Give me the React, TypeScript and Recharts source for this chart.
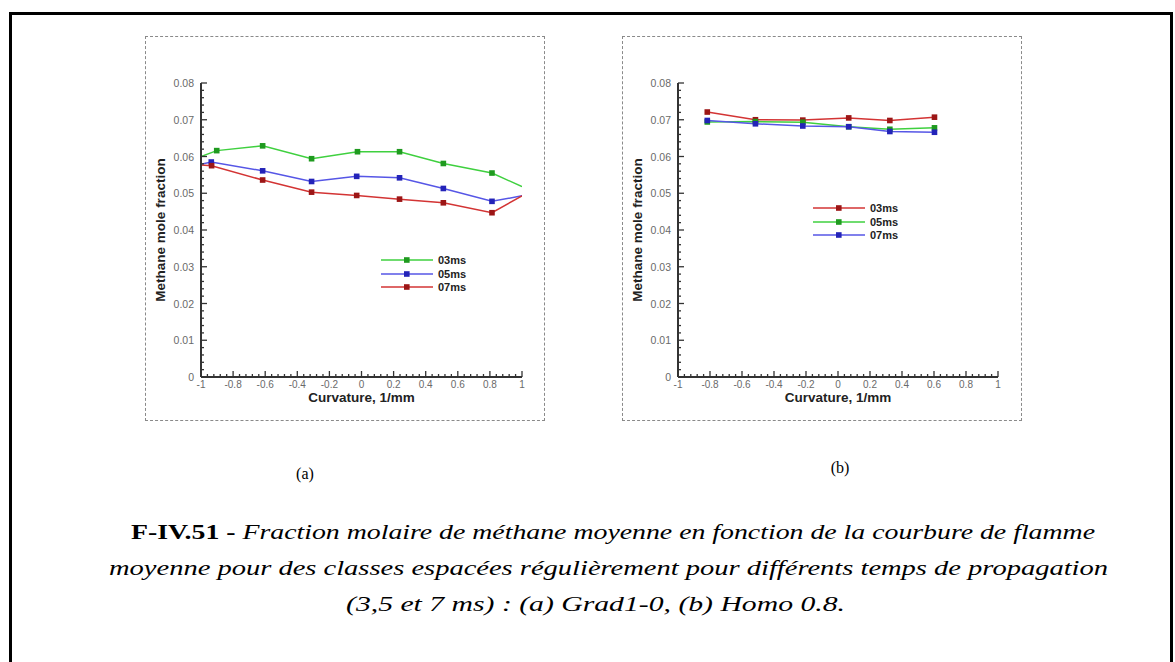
import { LineChart, Line, XAxis, YAxis, Legend } from 'recharts';

// (a) Grad1-0 : curvature classes and mean methane mole fraction
const curvA03 = [-1, -0.902, -0.616, -0.311, -0.025, 0.237, 0.51, 0.813, 1];
const molA03 = [0.06, 0.0616, 0.0629, 0.0594, 0.0613, 0.0613, 0.0581, 0.0555, 0.0518];
const curvA05 = [-1, -0.936, -0.616, -0.311, -0.03, 0.237, 0.51, 0.813, 1];
const molA05 = [0.0579, 0.0585, 0.0561, 0.0532, 0.0546, 0.0542, 0.0513, 0.0478, 0.0493];
const curvA07 = [-1, -0.934, -0.616, -0.311, -0.03, 0.237, 0.51, 0.813, 1];
const molA07 = [0.0577, 0.0575, 0.0536, 0.0503, 0.0494, 0.0484, 0.0474, 0.0447, 0.0493];

// (b) Homo 0.8
const curvB = [-0.817, -0.516, -0.22, 0.067, 0.324, 0.603];
const molB03 = [0.0721, 0.07, 0.0699, 0.0705, 0.0698, 0.0707];
const molB05 = [0.0694, 0.0695, 0.0693, 0.0681, 0.0674, 0.0678];
const molB07 = [0.0698, 0.0689, 0.0683, 0.0681, 0.0668, 0.0666];

const seriesNames = ['03ms', '05ms', '07ms'];

const xMajor = [-1, -0.8, -0.6, -0.4, -0.2, 0, 0.2, 0.4, 0.6, 0.8, 1];
const xLabels = ['-1', '-0.8', '-0.6', '-0.4', '-0.2', '0', '0.2', '0.4', '0.6', '0.8', '1'];
const yMajor = [0, 0.01, 0.02, 0.03, 0.04, 0.05, 0.06, 0.07, 0.08];
const yLabels = ['0', '0.01', '0.02', '0.03', '0.04', '0.05', '0.06', '0.07', '0.08'];

const GREEN = { line: '#3fd03f', mark: '#1f9a1f' };
const BLUE = { line: '#5656e6', mark: '#2323b8' };
const RED = { line: '#d33434', mark: '#9c1616' };

const rows = (xs: number[], ys: number[]) => xs.map((x, i) => ({ x, y: ys[i] }));

// split every major interval into n parts for the minor tick marks
const subdivide = (major: number[], n: number) => {
    const out: number[] = [];
    for (let i = 0; i < major.length - 1; i++) {
        const step = (major[i + 1] - major[i]) / n;
        for (let k = 0; k < n; k++) out.push(+(major[i] + k * step).toFixed(6));
    }
    out.push(major[major.length - 1]);
    return out;
};
const xTicks = subdivide(xMajor, 5);
const yTicks = subdivide(yMajor, 5);

const isMajor = (list: number[], v: number) => list.findIndex(m => Math.abs(m - v) < 1e-7);

const XTick = (props: any) => {
    const { x, y, payload } = props;
    const i = isMajor(xMajor, payload.value);
    return (
        <g>
            <line x1={x} x2={x} y1={y} y2={y - (i >= 0 ? 6 : 3)} stroke="#333" strokeWidth={1.3} />
            {i >= 0 && (
                <text x={x} y={y + 11} textAnchor="middle" fontSize={10} fill="#6a6a6a">{xLabels[i]}</text>
            )}
        </g>
    );
};

const YTick = (props: any) => {
    const { x, y, payload } = props;
    const i = isMajor(yMajor, payload.value);
    return (
        <g>
            <line x1={x} x2={x + (i >= 0 ? 6 : 3)} y1={y} y2={y} stroke="#333" strokeWidth={1.3} />
            {i >= 0 && (
                <text x={x - 7} y={y + 4} textAnchor="end" fontSize={10.5} fill="#6a6a6a">{yLabels[i]}</text>
            )}
        </g>
    );
};

const squareDot = (color: string) => (p: any) => {
    const { cx, cy, payload, index } = p;
    if (Math.abs(payload.x) >= 1) return <g key={index} />;
    return <rect key={index} x={cx - 2.8} y={cy - 2.8} width={5.6} height={5.6} fill={color} />;
};

const makeLegend = (left: number, top: number) => (props: any) => (
    <div style={{ position: 'absolute', left, top }}>
        {props.payload.map((e: any) => (
            <div key={e.value} style={{ display: 'flex', alignItems: 'center', height: 13.7 }}>
                <svg width={57} height={10}>
                    <line x1={0} x2={52} y1={5} y2={5} stroke={e.color} strokeWidth={1.5} />
                    <rect x={23} y={2.2} width={5.6} height={5.6} fill={e.payload.fill} />
                </svg>
                <span style={{ fontWeight: 'bold', fontSize: 11, color: '#222' }}>{e.value}</span>
            </div>
        ))}
    </div>
);

type Series = { name: string; data: { x: number; y: number }[]; c: { line: string; mark: string } };

function Panel({ left, series, margin, legendPos }: { left: number; series: Series[]; margin: any; legendPos: [number, number] }) {
    return (
        <div style={{ position: 'absolute', left, top: 36, width: 400, height: 385, border: '1px dashed #8a8a8a', boxSizing: 'border-box' }}>
            <div style={{ position: 'absolute', left: -1, top: -1 }}>
                <LineChart width={400} height={385} margin={margin} style={{ fontFamily: '"Liberation Sans", Arial, sans-serif' }}>
                    <XAxis
                        type="number"
                        dataKey="x"
                        domain={[-1, 1]}
                        ticks={xTicks}
                        interval={0}
                        allowDataOverflow
                        height={44}
                        tickSize={0}
                        tickMargin={0}
                        tickLine={false}
                        tick={<XTick />}
                        axisLine={{ stroke: '#333', strokeWidth: 2 }}
                        label={{ value: 'Curvature, 1/mm', position: 'insideTop', offset: 15, fontSize: 13.5, fontWeight: 'bold', fill: '#222' }}
                    />
                    <YAxis
                        type="number"
                        dataKey="y"
                        domain={[0, 0.08]}
                        ticks={yTicks}
                        interval={0}
                        allowDataOverflow
                        width={56}
                        tickSize={0}
                        tickMargin={0}
                        tickLine={false}
                        tick={<YTick />}
                        axisLine={{ stroke: '#333', strokeWidth: 2 }}
                        label={{ value: 'Methane mole fraction', angle: -90, position: 'center', dx: -13, fontSize: 13.5, fontWeight: 'bold', fill: '#222' }}
                    />
                    <Legend
                        layout="horizontal"
                        verticalAlign="middle"
                        align="center"
                        wrapperStyle={{ left: 0, top: 0, width: 0, height: 0 }}
                        content={makeLegend(legendPos[0], legendPos[1])}
                    />
                    {series.map(s => (
                        <Line
                            key={s.name}
                            data={s.data}
                            dataKey="y"
                            name={s.name}
                            stroke={s.c.line}
                            fill={s.c.mark}
                            strokeWidth={1.5}
                            dot={squareDot(s.c.mark)}
                            activeDot={false}
                            isAnimationActive={false}
                        />
                    ))}
                </LineChart>
            </div>
        </div>
    );
}

const seriesA: Series[] = [
    { name: seriesNames[0], data: rows(curvA03, molA03), c: GREEN },
    { name: seriesNames[1], data: rows(curvA05, molA05), c: BLUE },
    { name: seriesNames[2], data: rows(curvA07, molA07), c: RED },
];
const seriesB: Series[] = [
    { name: seriesNames[0], data: rows(curvB, molB03), c: RED },
    { name: seriesNames[1], data: rows(curvB, molB05), c: GREEN },
    { name: seriesNames[2], data: rows(curvB, molB07), c: BLUE },
];

const serif = '"Liberation Serif", "Times New Roman", serif';

export default function App() {
    return (
        <div style={{ position: 'absolute', left: 0, top: 0, width: 1175, height: 662, overflow: 'hidden', background: '#fff' }}>
            <div style={{ position: 'absolute', left: 9, top: 12, width: 1164, height: 720, border: '3px solid #000', boxSizing: 'border-box' }} />
            <Panel left={145} series={seriesA} margin={{ top: 47, right: 23, bottom: 0, left: 0 }} legendPos={[236, 217]} />
            <Panel left={622} series={seriesB} margin={{ top: 47, right: 24, bottom: 0, left: 0 }} legendPos={[191, 165]} />
            <svg width={1175} height={662} style={{ position: 'absolute', left: 0, top: 0, pointerEvents: 'none' }} fontFamily={serif}>
                <text x={305} y={479} textAnchor="middle" fontSize={16}>(a)</text>
                <text x={840} y={473} textAnchor="middle" fontSize={16}>(b)</text>
                <text x={131} y={539} fontSize={22} textLength={964} lengthAdjust="spacingAndGlyphs">
                    <tspan fontWeight="bold">F-IV.51 - </tspan>
                    <tspan fontStyle="italic">Fraction molaire de méthane moyenne en fonction de la courbure de flamme</tspan>
                </text>
                <text x={109} y={575} fontSize={22} fontStyle="italic" textLength={999} lengthAdjust="spacingAndGlyphs">
                    moyenne pour des classes espacées régulièrement pour différents temps de propagation
                </text>
                <text x={346} y={611} fontSize={22} fontStyle="italic" textLength={499} lengthAdjust="spacingAndGlyphs">
                    (3,5 et 7 ms) : (a) Grad1-0, (b) Homo 0.8.
                </text>
            </svg>
        </div>
    );
}
